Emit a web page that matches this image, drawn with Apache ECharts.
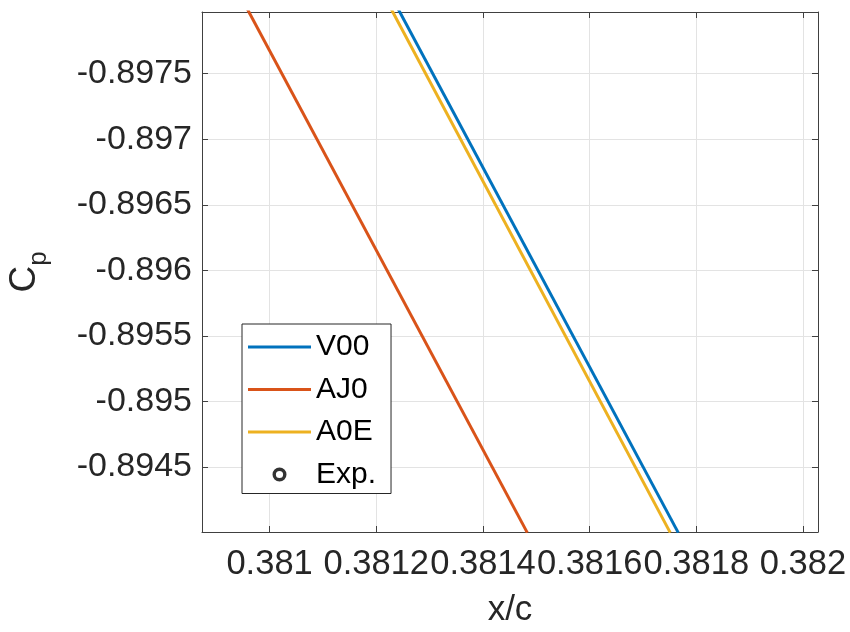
<!DOCTYPE html>
<html>
<head>
<meta charset="utf-8">
<script src="https://cdn.jsdelivr.net/npm/echarts@6/dist/echarts.min.js"></script>
<style>
  html, body { margin: 0; padding: 0; background: #ffffff; }
  #chart { width: 850px; height: 632px; }
</style>
</head>
<body>
<div id="chart"></div>
<script>
// Pressure coefficient along the chord, zoomed window
const seriesNames = ['V00', 'AJ0', 'A0E', 'Exp.'];
const cpLevels = [-0.898, -0.894];             // Cp at the two ends of each segment
const xV00 = [0.3812401, 0.3817661];
const xAJ0 = [0.3809573, 0.3814831];
const xA0E = [0.3812270, 0.3817511];
const expPoints = [];                           // no measurements fall in this window

const xTicks = [0.381, 0.3812, 0.3814, 0.3816, 0.3818, 0.382];
const yTicks = [-0.8975, -0.897, -0.8965, -0.896, -0.8955, -0.895, -0.8945];
const xRange = [0.3808733, 0.3820281];
const yRange = [-0.89797, -0.894005];

const colors = ['#0072BD', '#D95319', '#EDB120', '#000000'];
const textColor = '#262626';
const boxColor = '#404040';
const gridColor = '#e3e3e3';
const font = 'Liberation Sans, Arial, Helvetica, sans-serif';
// legend glyphs: a thick line stub and an open ring marker
const lineIcon = 'path://M0,0H63V3H0Z';
const ringIcon = 'path://M0,7a7,7 0 1,0 14,0a7,7 0 1,0 -14,0zM3.4,7a3.6,3.6 0 1,1 7.2,0a3.6,3.6 0 1,1 -7.2,0z';

function pairs(xs, ys) { return xs.map((x, i) => [x, ys[i]]); }
function fmt(v) { return String(parseFloat(Number(v).toFixed(5))); }

const chart = echarts.init(document.getElementById('chart'), null, { renderer: 'canvas' });

const lineSeries = (name, xs, color) => ({
  name, type: 'line', data: pairs(xs, cpLevels),
  symbol: 'none', clip: true,
  lineStyle: { color, width: 3 }, itemStyle: { color },
  z: 3
});

chart.setOption({
  animation: false,
  backgroundColor: '#ffffff',
  textStyle: { fontFamily: font },
  grid: { left: 202, right: 32, top: 12, bottom: 100, containLabel: false, outerBoundsMode: 'none' },
  legend: {
    orient: 'vertical', left: 242, top: 324,
    data: [
      { name: seriesNames[0], icon: lineIcon, itemStyle: { color: colors[0] } },
      { name: seriesNames[1], icon: lineIcon, itemStyle: { color: colors[1] } },
      { name: seriesNames[2], icon: lineIcon, itemStyle: { color: colors[2] } },
      { name: seriesNames[3], icon: ringIcon, itemStyle: { color: colors[3], borderWidth: 0 } }
    ],
    itemWidth: 63, itemHeight: 14, itemGap: 12.5,
    padding: [8, 15, 4, 6],
    backgroundColor: '#ffffff', borderColor: '#262626', borderWidth: 1, borderRadius: 0,
    textStyle: { fontSize: 30, color: '#000000', fontFamily: font },
    z: 10
  },
  xAxis: [{
    type: 'value', position: 'bottom', min: xRange[0], max: xRange[1],
    name: 'x/c', nameLocation: 'middle', nameGap: 61,
    nameTextStyle: { fontSize: 35, color: textColor, fontFamily: font },
    axisLine: { show: true, onZero: false, lineStyle: { color: boxColor, width: 1 } },
    axisTick: { show: true, inside: true, length: 6, customValues: xTicks, lineStyle: { color: boxColor } },
    axisLabel: { show: true, customValues: xTicks, margin: 15, fontSize: 34.5, color: textColor, fontFamily: font, formatter: fmt, showMinLabel: true, showMaxLabel: true, hideOverlap: false },
    splitLine: { show: true, lineStyle: { color: gridColor, width: 1 } }
  }, {
    type: 'value', position: 'top', min: xRange[0], max: xRange[1],
    axisLine: { show: true, onZero: false, lineStyle: { color: boxColor, width: 1 } },
    axisTick: { show: true, inside: true, length: 6, customValues: xTicks, lineStyle: { color: boxColor } },
    axisLabel: { show: false },
    splitLine: { show: false }
  }],
  yAxis: [{
    type: 'value', position: 'left', inverse: true, min: yRange[0], max: yRange[1],
    name: '{c|C}{p|p}', nameLocation: 'middle', nameGap: 150, nameRotate: 90,
    nameTextStyle: {
      color: textColor, fontFamily: font,
      rich: {
        c: { fontSize: 37, color: textColor, fontFamily: font, lineHeight: 46, verticalAlign: 'top' },
        p: { fontSize: 26, color: textColor, fontFamily: font, lineHeight: 46, verticalAlign: 'bottom' }
      }
    },
    axisLine: { show: true, onZero: false, lineStyle: { color: boxColor, width: 1 } },
    axisTick: { show: true, inside: true, length: 6, customValues: yTicks, lineStyle: { color: boxColor } },
    axisLabel: { show: true, customValues: yTicks, margin: 10, fontSize: 34, color: textColor, fontFamily: font, formatter: fmt },
    splitLine: { show: true, lineStyle: { color: gridColor, width: 1 } }
  }, {
    type: 'value', position: 'right', inverse: true, min: yRange[0], max: yRange[1],
    axisLine: { show: true, onZero: false, lineStyle: { color: boxColor, width: 1 } },
    axisTick: { show: true, inside: true, length: 6, customValues: yTicks, lineStyle: { color: boxColor } },
    axisLabel: { show: false },
    splitLine: { show: false }
  }],
  series: [
    lineSeries('V00', xV00, colors[0]),
    lineSeries('AJ0', xAJ0, colors[1]),
    lineSeries('A0E', xA0E, colors[2]),
    {
      name: 'Exp.', type: 'scatter', data: expPoints,
      symbol: 'circle', symbolSize: 10,
      itemStyle: { color: '#ffffff', borderColor: colors[3], borderWidth: 3 }
    }
  ]
});
</script>
</body>
</html>
